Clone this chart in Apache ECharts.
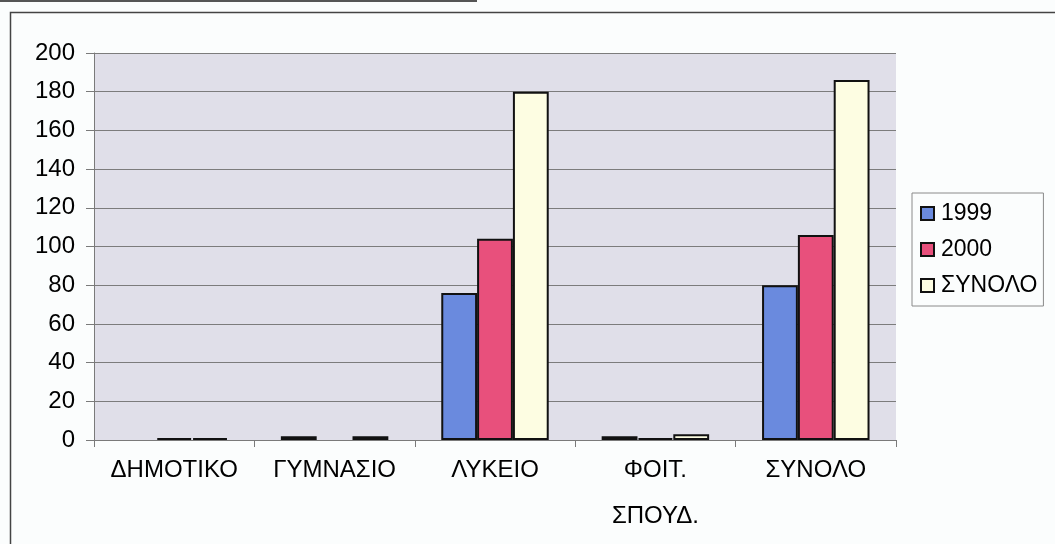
<!DOCTYPE html>
<html>
<head>
<meta charset="utf-8">
<script src="https://cdn.jsdelivr.net/npm/echarts@6/dist/echarts.min.js"></script>
<style>
html,body{margin:0;padding:0;background:#fbfdfd;}
#chart{width:1055px;height:544px;}
</style>
</head>
<body>
<div id="chart"></div>
<script>
const categories = ['ΔΗΜΟΤΙΚΟ', 'ΓΥΜΝΑΣΙΟ', 'ΛΥΚΕΙΟ', 'ΦΟΙΤ.\nΣΠΟΥΔ.', 'ΣΥΝΟΛΟ'];
const seriesNames = ['1999', '2000', 'ΣΥΝΟΛΟ'];
const values1999 = [0, 2, 76, 2, 80];
const values2000 = [1, 0, 104, 1, 106];
const valuesTotal = [1, 2, 180, 3, 186];
const yTicks = [0, 20, 40, 60, 80, 100, 120, 140, 160, 180, 200];

const colors = ['#6a8ade', '#e8507c', '#fdfde2'];
const font = "'Liberation Sans', Arial, sans-serif";

const chart = echarts.init(document.getElementById('chart'), null, {renderer: 'canvas'});
const data = [values1999, values2000, valuesTotal];

chart.setOption({
  animation: false,
  backgroundColor: '#fbfdfd',
  textStyle: {fontFamily: font, color: '#000'},
  grid: {left: 94, right: 159, top: 53, bottom: 104, show: true, backgroundColor: '#e0dfe9', borderWidth: 0},
  legend: {
    orient: 'vertical',
    left: 912, top: 193,
    padding: [9, 6, 9, 8],
    icon: 'rect',
    itemWidth: 13, itemHeight: 13, itemGap: 13,
    borderColor: '#8a8a8a', borderWidth: 1,
    textStyle: {fontSize: 23, fontFamily: font, color: '#000', padding: [0, 0, 0, 2]},
    data: seriesNames
  },
  xAxis: {
    type: 'category',
    data: categories,
    axisLine: {lineStyle: {color: '#7a7a7a', width: 1}},
    axisTick: {show: true, length: 7, lineStyle: {color: '#7a7a7a'}},
    axisLabel: {fontSize: 24, fontFamily: font, color: '#000', margin: 7, lineHeight: 46, interval: 0}
  },
  yAxis: {
    type: 'value',
    min: yTicks[0], max: yTicks[yTicks.length - 1], interval: 20,
    axisLine: {show: true, lineStyle: {color: '#7a7a7a', width: 1}},
    axisTick: {show: true, length: 8, lineStyle: {color: '#7a7a7a'}},
    axisLabel: {fontSize: 24, fontFamily: font, color: '#000', margin: 19},
    splitLine: {lineStyle: {color: '#7c7c7c', width: 1}}
  },
  series: seriesNames.map((n, i) => ({
    name: n,
    type: 'bar',
    data: data[i].map(v => v === 0 ? {value: v, itemStyle: {borderWidth: 0, opacity: 0}} : v),
    barGap: '0%',
    barCategoryGap: '33%',
    itemStyle: {color: colors[i], borderColor: '#111', borderWidth: 2}
  })),
  graphic: [
    {type: 'rect', left: 8, top: 10, shape: {width: 1070, height: 560}, style: {fill: 'none', stroke: '#444', lineWidth: 1.5}, silent: true},
    {type: 'line', shape: {x1: 0, y1: 1, x2: 477, y2: 1}, style: {stroke: '#555', lineWidth: 2}, silent: true}
  ]
});
</script>
</body>
</html>
